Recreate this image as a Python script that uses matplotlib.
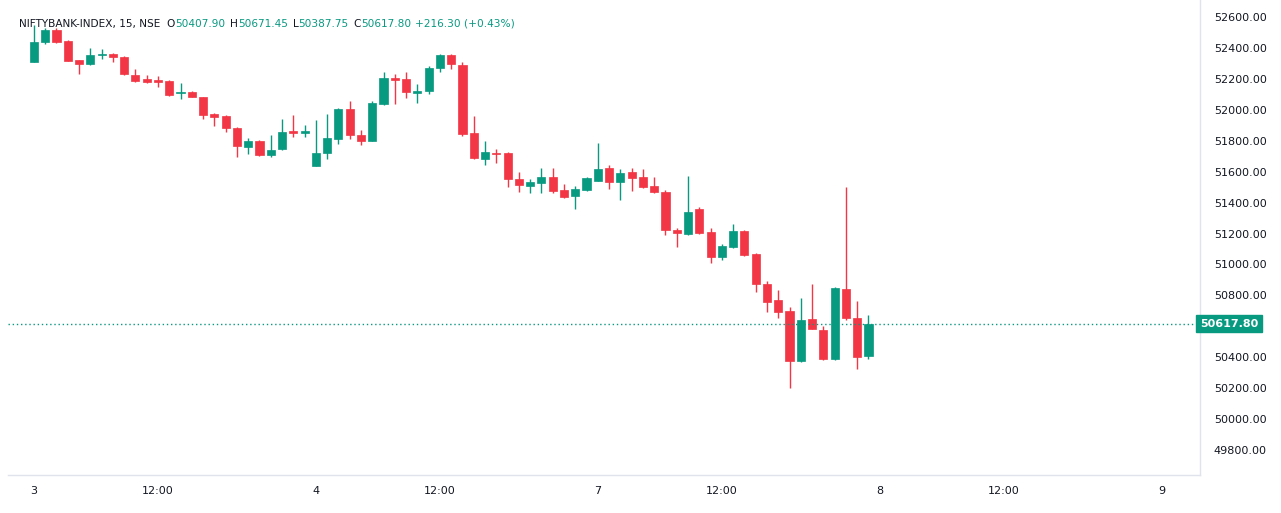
import matplotlib
matplotlib.use('Agg')
import matplotlib.pyplot as plt
from matplotlib.patches import Rectangle

# --- данные свечей (15 мин), NIFTYBANK-INDEX ---
opens = [52309, 52438, 52516, 52445, 52322, 52296, 52355, 52361, 52341, 52225, 52199, 52193, 52186, 52110, 52115,
         52083, 51973, 51960, 51882, 51760, 51798, 51708, 51747, 51860, 51850,
         51637, 51720, 51811, 52005, 51837, 51798, 52038, 52205, 52199, 52109, 52122, 52270, 52354, 52290, 51850,
         51682, 51720, 51720, 51553, 51508, 51527, 51566, 51482, 51443, 51482,
         51540, 51624, 51534, 51598, 51566, 51508, 51470, 51223, 51197, 51360, 51210, 51048, 51113, 51217, 51068,
         50874, 50770, 50700, 50376, 50648, 50577, 50389, 50842, 50654, 50407.90]
closes = [52438, 52516, 52438, 52316, 52296, 52354, 52361, 52341, 52232, 52186, 52180, 52180, 52096, 52118, 52083,
          51966, 51953, 51882, 51766, 51798, 51708, 51740, 51856, 51850, 51860,
          51720, 51818, 52005, 51837, 51798, 52044, 52205, 52192, 52115, 52122, 52270, 52354, 52296, 51843, 51688,
          51727, 51714, 51553, 51514, 51534, 51566, 51475, 51437, 51488, 51560,
          51617, 51534, 51592, 51560, 51501, 51470, 51223, 51204, 51340, 51204, 51048, 51120, 51217, 51061, 50874,
          50757, 50693, 50376, 50641, 50583, 50389, 50848, 50654, 50402, 50617.80]
highs = [52548, 52530, 52530, 52450, 52325, 52400, 52393, 52370, 52348, 52264, 52225, 52218, 52192, 52173, 52120,
         52085, 51980, 51965, 51890, 51818, 51805, 51837, 51940, 51966, 51900,
         51934, 51973, 52010, 52057, 51870, 52057, 52244, 52231, 52244, 52167, 52283, 52360, 52360, 52309, 51960,
         51798, 51746, 51725, 51600, 51553, 51624, 51624, 51520, 51507, 51566,
         51785, 51643, 51617, 51624, 51617, 51566, 51480, 51236, 51572, 51372, 51236, 51133, 51262, 51223, 51075,
         50893, 50835, 50725, 50783, 50874, 50602, 50855, 51500, 50764, 50671.45]
lows = [52309, 52425, 52430, 52316, 52231, 52290, 52330, 52310, 52225, 52180, 52173, 52147, 52090, 52070, 52080,
        51940, 51895, 51857, 51695, 51714, 51700, 51695, 51740, 51825, 51825,
        51637, 51682, 51779, 51811, 51773, 51798, 52030, 52038, 52077, 52044, 52102, 52244, 52264, 51830, 51680,
        51643, 51656, 51500, 51470, 51462, 51462, 51465, 51430, 51360, 51475,
        51540, 51488, 51417, 51475, 51495, 51465, 51190, 51113, 51190, 51195, 51010, 51030, 51106, 51055, 50822,
        50693, 50654, 50201, 50370, 50580, 50385, 50385, 50641, 50324, 50387.75]

tick_idx = [0, 11, 25, 36, 50, 61, 75, 86, 100]
tick_labels = ['3', '12:00', '4', '12:00', '7', '12:00', '8', '12:00', '9']
# 50600 скрыт меткой последней цены
price_ticks = [p for p in range(49800, 52601, 200) if p != 50600]
last_price = 50617.80

GREEN = '#089981'
RED = '#F23645'
TXT = '#131722'

fig = plt.figure(figsize=(12.81, 5.13), dpi=100)
ax = fig.add_axes([8 / 1281, 38 / 513, 1192 / 1281, 475 / 513])

for i, (o, c, h, l) in enumerate(zip(opens, closes, highs, lows)):
    col = GREEN if c >= o else RED
    ax.vlines(i, l, h, color=col, linewidth=1)
    bottom = min(o, c)
    height = max(abs(c - o), 4)
    ax.add_patch(Rectangle((i - 0.36, bottom), 0.72, height, facecolor=col, edgecolor=col, linewidth=0.5))

ax.axhline(last_price, color=GREEN, linestyle=(0, (1, 2)), linewidth=1)

ax.set_xlim(-2.3, 103.4)
ax.set_ylim(49639, 52710)
ax.set_xticks(tick_idx)
ax.set_xticklabels(tick_labels)
ax.yaxis.tick_right()
ax.set_yticks(price_ticks)
ax.set_yticklabels([f'{p:.2f}' for p in price_ticks])
ax.tick_params(axis='both', length=0, labelsize=8, colors=TXT, pad=8)
ax.tick_params(axis='y', pad=10)
for s in ax.spines.values():
    s.set_color('#E0E3EB')
    s.set_linewidth(1)
ax.spines['top'].set_visible(False)
ax.spines['left'].set_visible(False)

# метка последней цены
ax.text(1.0, last_price, f'{last_price:.2f}', transform=ax.get_yaxis_transform(),
        ha='left', va='center', fontsize=8, color='white', fontweight='bold',
        bbox=dict(boxstyle='square,pad=0.35', facecolor=GREEN, edgecolor=GREEN))

# заголовок: куски текста ставим друг за другом по реальной ширине
parts = [('NIFTYBANK-INDEX, 15, NSE', TXT, 6), ('O', TXT, 0), ('50407.90', GREEN, 5), ('H', TXT, 0),
         ('50671.45', GREEN, 5), ('L', TXT, 0), ('50387.75', GREEN, 5), ('C', TXT, 0),
         ('50617.80', GREEN, 4), ('+216.30 (+0.43%)', GREEN, 0)]
renderer = fig.canvas.get_renderer()
x_px = 19
for s, col, gap in parts:
    t = fig.text(x_px / 1281, 1 - 24 / 513, s, fontsize=7.6, color=col, va='center')
    x_px += t.get_window_extent(renderer).width + gap

fig.savefig('out.png', dpi=100, facecolor='white')
